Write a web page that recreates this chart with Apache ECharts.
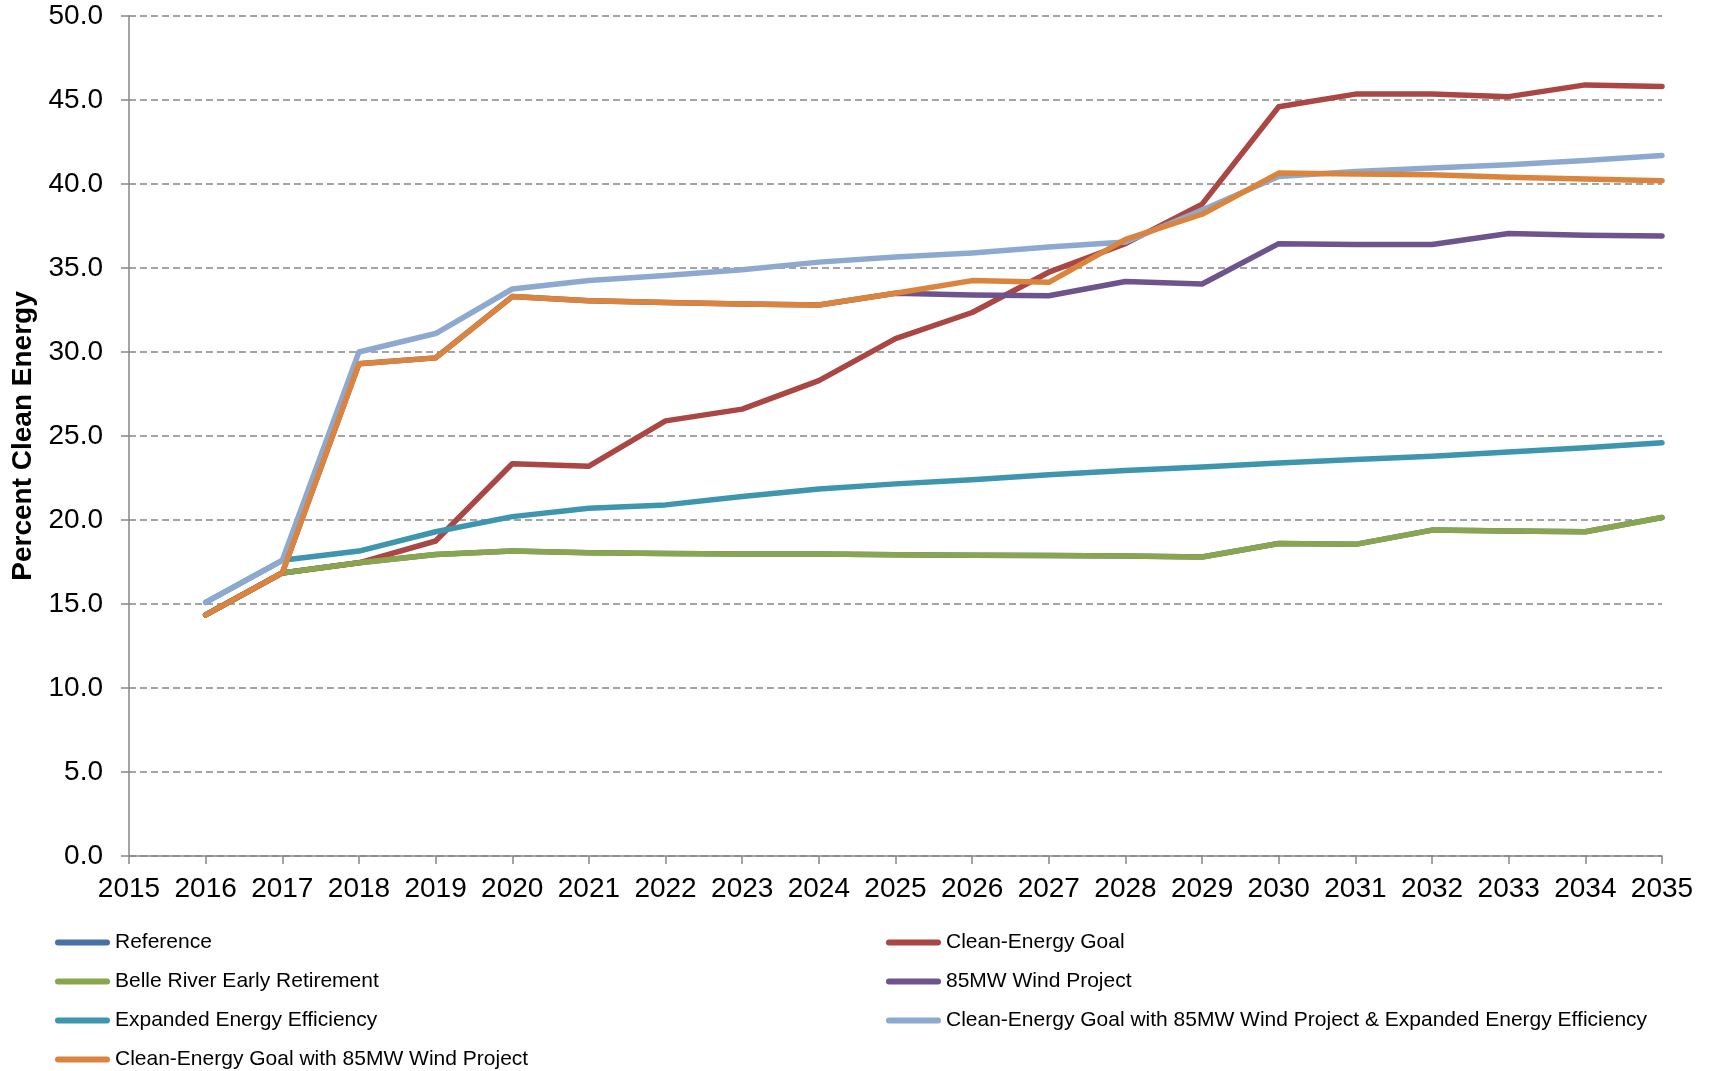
<!DOCTYPE html>
<html>
<head>
<meta charset="utf-8">
<title>Percent Clean Energy by Scenario</title>
<script src="https://cdn.jsdelivr.net/npm/echarts@6/dist/echarts.min.js"></script>
<style>
  html, body { margin: 0; padding: 0; background: #ffffff; }
  #chart { width: 1709px; height: 1071px; }
</style>
</head>
<body>
<div id="chart"></div>
<script>
// Scenario years
const years = [2016, 2017, 2018, 2019, 2020, 2021, 2022, 2023, 2024, 2025,
               2026, 2027, 2028, 2029, 2030, 2031, 2032, 2033, 2034, 2035];

// Percent clean energy for each scenario
const reference      = [14.35, 16.85, 17.45, 17.95, 18.15, 18.05, 18.0, 17.97, 17.97, 17.93,
                        17.9, 17.88, 17.85, 17.8, 18.6, 18.55, 19.4, 19.35, 19.3, 20.15];
const cleanGoal      = [14.35, 16.85, 17.45, 18.75, 23.35, 23.2, 25.9, 26.6, 28.3, 30.8,
                        32.35, 34.75, 36.45, 38.8, 44.6, 45.35, 45.35, 45.2, 45.9, 45.8];
const belleRiver     = [14.35, 16.85, 17.45, 17.95, 18.15, 18.05, 18.0, 17.97, 17.97, 17.93,
                        17.9, 17.88, 17.85, 17.8, 18.6, 18.55, 19.4, 19.35, 19.3, 20.15];
const wind85         = [14.35, 16.85, 29.3, 29.65, 33.3, 33.05, 32.95, 32.85, 32.8, 33.5,
                        33.4, 33.35, 34.2, 34.05, 36.45, 36.4, 36.4, 37.05, 36.95, 36.9];
const expandedEE     = [15.1, 17.6, 18.15, 19.3, 20.2, 20.7, 20.9, 21.4, 21.85, 22.15,
                        22.4, 22.7, 22.95, 23.15, 23.4, 23.6, 23.8, 24.05, 24.3, 24.6];
const goalWindEE     = [15.1, 17.6, 30.0, 31.1, 33.75, 34.25, 34.55, 34.9, 35.35, 35.65,
                        35.9, 36.25, 36.55, 38.45, 40.45, 40.75, 40.95, 41.15, 41.4, 41.7];
const goalWind       = [14.35, 16.85, 29.3, 29.65, 33.3, 33.05, 32.95, 32.85, 32.8, 33.5,
                        34.25, 34.15, 36.7, 38.2, 40.65, 40.6, 40.55, 40.4, 40.3, 40.2];

// Series names, in drawing order (later ones sit on top)
const names = [
  'Reference',
  'Clean-Energy Goal',
  'Belle River Early Retirement',
  '85MW Wind Project',
  'Expanded Energy Efficiency',
  'Clean-Energy Goal with 85MW Wind Project & Expanded Energy Efficiency',
  'Clean-Energy Goal with 85MW Wind Project'
];
const values = [reference, cleanGoal, belleRiver, wind85, expandedEE, goalWindEE, goalWind];
const colors = ['#4572A7', '#AA4643', '#89A54E', '#6E548D', '#3D96AE', '#8EA9D0', '#DB843D'];

const FONT = "'Liberation Sans', Arial, sans-serif";
const AXIS_GRAY = '#868686';

// Legend rows: 39px apart, two columns
const LEGEND_TOP = 932;
const ROW_STEP = 39;

const legendIcon = 'path://M3,0 L53,0 A3,3 0 0 1 53,6 L3,6 A3,3 0 0 1 3,0 Z';
const legendCommon = {
  orient: 'vertical',
  padding: 0,
  icon: legendIcon,
  itemWidth: 55,
  itemHeight: 6,
  itemGap: 18,
  itemTextGap: 3,
  selectedMode: false,
  textStyle: { fontFamily: FONT, fontSize: 21, lineHeight: 20, color: '#000000' }
};

const chart = echarts.init(document.getElementById('chart'), null, { renderer: 'canvas' });

chart.setOption({
  animation: false,
  backgroundColor: '#ffffff',
  grid: { left: 129, right: 47, top: 16, bottom: 215 },
  legend: [
    Object.assign({}, legendCommon, {
      left: 55,
      top: LEGEND_TOP,
      height: 130,
      data: [names[0], names[2], names[4]]
    }),
    Object.assign({}, legendCommon, {
      left: 55,
      top: LEGEND_TOP + 3 * ROW_STEP,
      height: 24,
      data: [names[6]]
    }),
    Object.assign({}, legendCommon, {
      left: 886,
      top: LEGEND_TOP,
      height: 130,
      data: [names[1], names[3], names[5]]
    })
  ],
  xAxis: {
    type: 'value',
    min: 2015,
    max: 2035,
    interval: 1,
    axisLine: { show: true, lineStyle: { color: AXIS_GRAY, width: 1.5 } },
    axisTick: { show: true, length: 8, lineStyle: { color: AXIS_GRAY, width: 1.5 } },
    axisLabel: {
      margin: 19,
      fontFamily: FONT,
      fontSize: 28,
      color: '#000000',
      formatter: v => String(v)
    },
    splitLine: { show: false }
  },
  yAxis: {
    type: 'value',
    min: 0,
    max: 50,
    interval: 5,
    name: 'Percent Clean Energy',
    nameLocation: 'middle',
    nameGap: 91,
    nameTextStyle: { fontFamily: FONT, fontSize: 28, fontWeight: 'bold', color: '#000000' },
    axisLine: { show: true, lineStyle: { color: AXIS_GRAY, width: 1.5 } },
    axisTick: { show: true, length: 8, lineStyle: { color: AXIS_GRAY, width: 1.5 } },
    axisLabel: {
      margin: 26,
      fontFamily: FONT,
      fontSize: 28,
      color: '#000000',
      formatter: v => v.toFixed(1)
    },
    splitLine: {
      show: true,
      lineStyle: { color: AXIS_GRAY, width: 1.5, type: [7, 4] }
    }
  },
  series: names.map((name, i) => ({
    name: name,
    type: 'line',
    data: years.map((y, j) => [y, values[i][j]]),
    showSymbol: false,
    symbol: 'none',
    color: colors[i],
    lineStyle: { color: colors[i], width: 5.5, cap: 'round', join: 'round' }
  }))
});
</script>
</body>
</html>
